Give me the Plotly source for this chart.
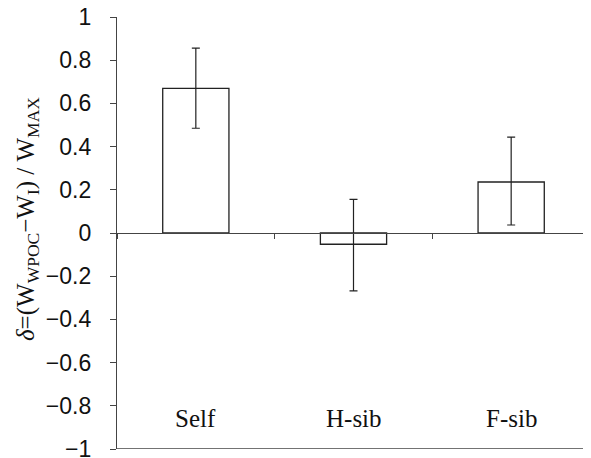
import plotly.graph_objects as go

categories = ["Self", "H-sib", "F-sib"]
values = [0.67, -0.052, 0.236]
err_plus = [0.186, 0.208, 0.208]
err_minus = [0.185, 0.216, 0.199]
y_ticks = [1, 0.8, 0.6, 0.4, 0.2, 0, -0.2, -0.4, -0.6, -0.8, -1]
label_y = -0.86
y_title = "<i>δ</i>=(W<sub>WPOC</sub>−W<sub>I</sub>) / W<sub>MAX</sub>"

fig = go.Figure()
fig.add_trace(go.Bar(
    x=categories, y=values, width=0.42,
    marker=dict(color="white", line=dict(color="#222", width=1.3)),
    error_y=dict(type="data", array=err_plus, arrayminus=err_minus,
                 color="#222", thickness=1.2, width=4),
    showlegend=False,
))

for c in categories:
    fig.add_annotation(x=c, y=label_y, text=c, showarrow=False,
                       font=dict(family="Liberation Serif", size=25, color="#111"))

fig.add_annotation(xref="paper", yref="paper", x=0, y=0.5, xshift=-90, yshift=14,
                   xanchor="center", yanchor="middle", textangle=-90,
                   text=y_title, showarrow=False,
                   font=dict(family="Liberation Serif", size=25, color="#111"))

# page body has an 8px default margin, so the figure is sized to fit the window
fig.update_layout(
    width=583, height=450,
    margin=dict(l=109, r=1, t=9, b=9, autoexpand=False),
    plot_bgcolor="white", paper_bgcolor="white",
    xaxis=dict(
        type="category", range=[-0.5, 2.5],
        anchor="free", position=0.5, automargin=False,
        showline=True, linecolor="#444", linewidth=1.3,
        ticks="outside", ticklen=5, tickcolor="#444", tickwidth=1,
        tickson="boundaries", showticklabels=False, showgrid=False,
        zeroline=False,
    ),
    yaxis=dict(
        range=[-1, 1], tickvals=y_ticks, domain=[0, 1], automargin=False,
        showline=True, linecolor="#444", linewidth=1.3,
        ticks="outside", ticklen=6, tickcolor="#444", tickwidth=1,
        ticklabelstandoff=14, ticklabeloverflow="allow",
        showgrid=False, zeroline=False,
        tickfont=dict(family="Liberation Sans", size=23, color="#111"),
    ),
)
fig.add_shape(type="line", xref="paper", yref="y", x0=0, x1=1, y0=-1, y1=-1,
              line=dict(color="#444", width=1.3))

fig.write_html("out.html")
